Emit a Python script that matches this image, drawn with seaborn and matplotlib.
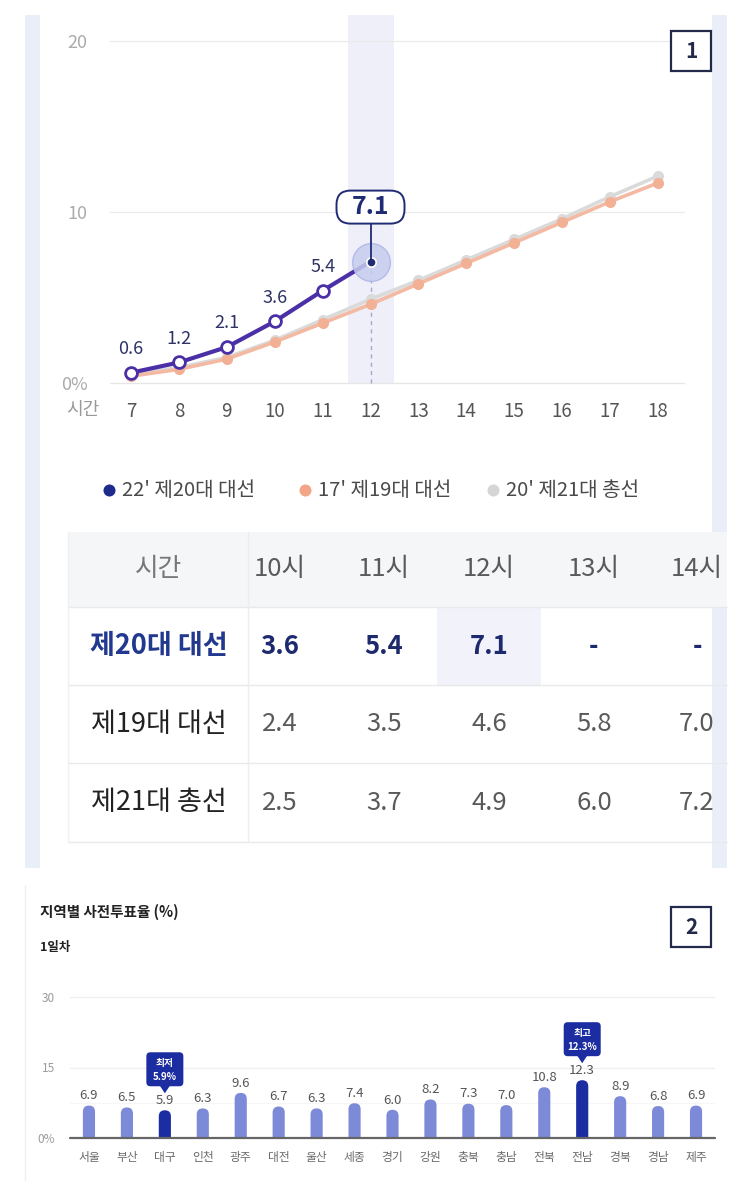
import numpy as np
import pandas as pd
import seaborn as sns
import matplotlib.pyplot as plt
from matplotlib.patches import FancyBboxPatch, Rectangle, Polygon

# ---------------- data ----------------
hours = [7, 8, 9, 10, 11, 12, 13, 14, 15, 16, 17, 18]
rate_20th = [0.6, 1.2, 2.1, 3.6, 5.4, 7.1]
rate_19th = [0.4, 0.8, 1.4, 2.4, 3.5, 4.6, 5.8, 7.0, 8.2, 9.4, 10.6, 11.7]
rate_21st = [0.5, 0.9, 1.5, 2.5, 3.7, 4.9, 6.0, 7.2, 8.4, 9.6, 10.9, 12.1]
series_names = ["22' 제20대 대선", "17' 제19대 대선", "20' 제21대 총선"]
y_ticks1 = [0, 10, 20]
y_ticklabels1 = ["0%", "10", "20"]

table_header = ["시간", "10시", "11시", "12시", "13시", "14시"]
table_rows = ["제20대 대선", "제19대 대선", "제21대 총선"]
table_values = [["3.6", "5.4", "7.1", "-", "-"],
                ["2.4", "3.5", "4.6", "5.8", "7.0"],
                ["2.5", "3.7", "4.9", "6.0", "7.2"]]

regions = ["서울", "부산", "대구", "인천", "광주", "대전", "울산", "세종", "경기",
           "강원", "충북", "충남", "전북", "전남", "경북", "경남", "제주"]
region_rates = [6.9, 6.5, 5.9, 6.3, 9.6, 6.7, 6.3, 7.4, 6.0, 8.2, 7.3, 7.0,
                10.8, 12.3, 8.9, 6.8, 6.9]
y_ticks2 = [0, 15, 30]
y_ticklabels2 = ["0%", "15", "30"]
title2 = "지역별 사전투표율 (%)"
subtitle2 = "1일차"

# ---------------- style ----------------
sns.set_theme(style="white")
plt.rcParams['font.family'] = ['Noto Sans CJK KR', 'DejaVu Sans']

PURPLE = '#4A2FA6'
NAVY = '#1F2B73'
ORANGE = '#F3B9A2'
GRAY = '#DADADA'
BAR = '#7D8AD8'
BAR_HI = '#1B2DA0'

W, H = 750, 1191
fig = plt.figure(figsize=(W / 100, H / 100), dpi=100)
fig.patch.set_facecolor('white')


def rect(x0, y0, x1, y1):
    return [x0 / W, 1 - y1 / H, (x1 - x0) / W, (y1 - y0) / H]


def pixel_axes(z):
    a = fig.add_axes([0, 0, 1, 1])
    a.set_xlim(0, W)
    a.set_ylim(H, 0)
    a.axis('off')
    a.set_zorder(z)
    a.patch.set_alpha(0)
    return a


bg = pixel_axes(0)
fg = pixel_axes(10)

# side strips of panel 1
bg.add_patch(Rectangle((25, 15), 15, 853, color='#E9EEF8', lw=0))
bg.add_patch(Rectangle((712, 15), 15, 853, color='#E9EEF8', lw=0))
# panel 2 faint left border
bg.plot([25, 25], [885, 1180], color='#F0F0F0', lw=1)

# ---------------- panel 1 line chart ----------------
ax1 = fig.add_axes(rect(110, 15, 685, 390))
ax1.set_zorder(2)
ax1.patch.set_alpha(0)
px_x = 47.9
px_y = 17.1
ax1.set_xlim(7 - 21 / px_x, 7 - 21 / px_x + 575 / px_x)
ax1.set_ylim(-7 / px_y, -7 / px_y + 375 / px_y)
for s in ax1.spines.values():
    s.set_visible(False)

ax1.axvspan(11.53, 12.5, ymin=7 / 375, ymax=1, color='#EEEFF8', lw=0, zorder=0)
for yv in y_ticks1:
    ax1.axhline(yv, color='#EBEBEB' if yv else '#E6E6E6', lw=0.9, zorder=0.5)

df19 = pd.DataFrame({'hour': hours, 'rate': rate_19th})
df21 = pd.DataFrame({'hour': hours, 'rate': rate_21st})
df20 = pd.DataFrame({'hour': hours[:len(rate_20th)], 'rate': rate_20th})

sns.lineplot(data=df21, x='hour', y='rate', ax=ax1, color=GRAY, lw=2.6,
             marker='o', markersize=8, markeredgewidth=0, zorder=3)
sns.lineplot(data=df19, x='hour', y='rate', ax=ax1, color=ORANGE, lw=2.6,
             marker='o', markersize=8, markerfacecolor='#F2B094',
             markeredgewidth=0, zorder=4)

cur_h, cur_v = df20['hour'].iloc[-1], df20['rate'].iloc[-1]
ax1.plot([cur_h, cur_h], [0, cur_v], color='#A8A8CC', lw=1.0,
         ls=(0, (3, 3)), zorder=2)

sns.lineplot(data=df20, x='hour', y='rate', ax=ax1, color=PURPLE, lw=3.0,
             marker='o', markersize=8.5, markerfacecolor='white',
             markeredgecolor=PURPLE, markeredgewidth=2.0,
             markevery=list(range(len(rate_20th) - 1)), zorder=5)
ax1.scatter([cur_h], [cur_v], s=740, color='#C6CCEF', edgecolor='#AEB6E8',
            lw=1, alpha=0.85, zorder=6)
ax1.scatter([cur_h], [cur_v], s=45, color=NAVY, edgecolor='white', lw=1.2,
            zorder=8)
ax1.set_xlabel('')
ax1.set_ylabel('')

for h, v in zip(df20['hour'][:-1], df20['rate'][:-1]):
    ax1.annotate(f"{v:.1f}", (h, v), xytext=(0, 17), textcoords='offset points',
                 ha='center', va='center', fontsize=13, color='#2E3366', zorder=7)


def to_px(ax, x, y):
    return fg.transData.inverted().transform(ax.transData.transform((x, y)))


# callout for current value
cx, cy = to_px(ax1, cur_h, cur_v)
box_w, box_h = 68, 33
box_bottom = cy - 38
fg.add_patch(FancyBboxPatch((cx - box_w / 2, box_bottom - box_h), box_w, box_h,
                            boxstyle="round,pad=0,rounding_size=14",
                            fc='white', ec=NAVY, lw=1.4, zorder=9))
fg.plot([cx, cx], [box_bottom, cy], color=NAVY, lw=1.3, zorder=8)
fg.text(cx, box_bottom - box_h / 2, f"{cur_v:.1f}",
        ha='center', va='center', fontsize=18, fontweight='bold', color=NAVY,
        zorder=10)

ax1.set_xticks(hours)
ax1.set_xticklabels([str(h) for h in hours], fontsize=13.5, color='#555555')
ax1.set_yticks(y_ticks1)
ax1.set_yticklabels(y_ticklabels1, fontsize=13, color='#ABABAB')
ax1.tick_params(axis='x', length=0, pad=8)
ax1.tick_params(axis='y', length=0, pad=16)
bg.text(83, 410, "시간", ha='center', va='center', fontsize=13, color='#9A9A9A')

# box "1"
fg.add_patch(Rectangle((671, 31), 40, 40, fc='white', ec='#23294A', lw=1.6, zorder=3))
fg.text(691, 51, "1", ha='center', va='center', fontsize=15, fontweight='bold',
        color='#23294A', zorder=4)

# legend
leg_colors = ['#1E2A8C', '#F2A587', '#D5D5D5']
leg_x = [109, 305, 493]
for x, c, name in zip(leg_x, leg_colors, series_names):
    bg.scatter([x], [490], s=75, color=c, lw=0, zorder=3)
    bg.text(x + 13, 490, name, ha='left', va='center', fontsize=14.5,
            color='#4A4A4A', zorder=3)

# ---------------- table ----------------
tx0, tx1 = 68, 727
row_edges = [532, 607, 685, 763, 842]
col_centers = [159, 280, 384, 489, 594, 697]
bg.add_patch(Rectangle((tx0, row_edges[0]), tx1 - tx0, row_edges[1] - row_edges[0],
                       fc='#F5F6F8', lw=0, zorder=2))
bg.add_patch(Rectangle((437, row_edges[1]), 104, row_edges[2] - row_edges[1],
                       fc='#F2F2FA', lw=0, zorder=2))
for yv in row_edges[1:]:
    bg.plot([tx0, tx1], [yv, yv], color='#E9E9E9', lw=1, zorder=2.5)
bg.plot([248, 248], [row_edges[0], row_edges[-1]], color='#EDEDED', lw=1, zorder=2.5)
bg.plot([tx0, tx0], [row_edges[0], row_edges[-1]], color='#F0F0F0', lw=1, zorder=2.5)

for j, lab in enumerate(table_header):
    bg.text(col_centers[j], (row_edges[0] + row_edges[1]) / 2, lab, ha='center',
            va='center', fontsize=18.5, color='#777777' if j == 0 else '#5A5A5A',
            zorder=3)
for i, (rl, vals) in enumerate(zip(table_rows, table_values)):
    yc = (row_edges[i + 1] + row_edges[i + 2]) / 2
    first = (i == 0)
    bg.text(col_centers[0], yc, rl, ha='center', va='center', fontsize=19.5,
            fontweight='bold' if first else 'normal',
            color='#23398F' if first else '#222222', zorder=3)
    for j, v in enumerate(vals):
        bg.text(col_centers[j + 1], yc, v, ha='center', va='center', fontsize=18.5,
                fontweight='bold' if first else 'normal',
                color='#1E2A6E' if first else '#5A5A5A', zorder=3)

# ---------------- panel 2 bar chart ----------------
bg.text(40, 912, title2, ha='left', va='center', fontsize=10.5, fontweight='bold',
        color='#222222')
bg.text(40, 947, subtitle2, ha='left', va='center', fontsize=9, fontweight='bold',
        color='#222222')
fg.add_patch(Rectangle((671, 907), 40, 40, fc='white', ec='#23294A', lw=1.6, zorder=3))
fg.text(691, 927, "2", ha='center', va='center', fontsize=15, fontweight='bold',
        color='#23294A', zorder=4)

ax2 = fig.add_axes(rect(70, 990, 715, 1138))
ax2.set_zorder(2)
ax2.patch.set_alpha(0)
bx = 37.88
by = 4.7
ax2.set_xlim(-22 / bx, -22 / bx + 645 / bx)
ax2.set_ylim(0, 148 / by)
for s in ax2.spines.values():
    s.set_visible(False)

vmin, vmax = min(region_rates), max(region_rates)
colors = [BAR_HI if v in (vmin, vmax) else BAR for v in region_rates]
for yv in y_ticks2[1:]:
    ax2.axhline(yv, color='#EFEFEF', lw=0.9, zorder=0)
ax2.axhline(7.5, color='#F6F6F6', lw=0.8, zorder=0)

sns.barplot(x=regions, y=region_rates, hue=regions, palette=colors, legend=False,
            width=0.32, ax=ax2, saturation=1)
aspect = bx / by
for p in list(ax2.patches):
    x0, w, h = p.get_x(), p.get_width(), p.get_height()
    fc = p.get_facecolor()
    p.remove()
    ax2.add_patch(FancyBboxPatch((x0, -2), w, h + 2,
                                 boxstyle=f"round,pad=0,rounding_size={w / 2}",
                                 mutation_aspect=aspect, fc=fc, lw=0, zorder=2))

ax2.axhline(0, color='#666666', lw=1.6, zorder=3, clip_on=False)
for i, v in enumerate(region_rates):
    ax2.annotate(f"{v:.1f}", (i, v), xytext=(0, 7), textcoords='offset points',
                 ha='center', va='center', fontsize=9.5, color='#555555')

for kind, val in (("최저", vmin), ("최고", vmax)):
    i = region_rates.index(val)
    px, py = to_px(ax2, i, val)
    tip = py - 17
    bw, bh = 37, 34
    bottom = tip - 7
    fg.add_patch(FancyBboxPatch((px - bw / 2, bottom - bh), bw, bh,
                                boxstyle="round,pad=0,rounding_size=4",
                                fc=BAR_HI, lw=0, zorder=5))
    fg.add_patch(Polygon([[px - 5, bottom - 0.5], [px + 5, bottom - 0.5], [px, tip]],
                         closed=True, fc=BAR_HI, lw=0, zorder=5))
    fg.text(px, bottom - bh * 0.68, kind, ha='center', va='center', fontsize=7,
            fontweight='bold', color='white', zorder=6)
    fg.text(px, bottom - bh * 0.27, f"{val:.1f}%", ha='center', va='center',
            fontsize=7, fontweight='bold', color='white', zorder=6)

ax2.set_yticks(y_ticks2)
ax2.set_yticklabels(y_ticklabels2, fontsize=8.5, color='#9A9A9A')
ax2.tick_params(axis='y', length=0, pad=11)
ax2.tick_params(axis='x', length=0, pad=9, labelsize=8.5, labelcolor='#6A6A6A')
ax2.set_xlabel('')
ax2.set_ylabel('')

fig.savefig('out.png', dpi=100, facecolor='white')
